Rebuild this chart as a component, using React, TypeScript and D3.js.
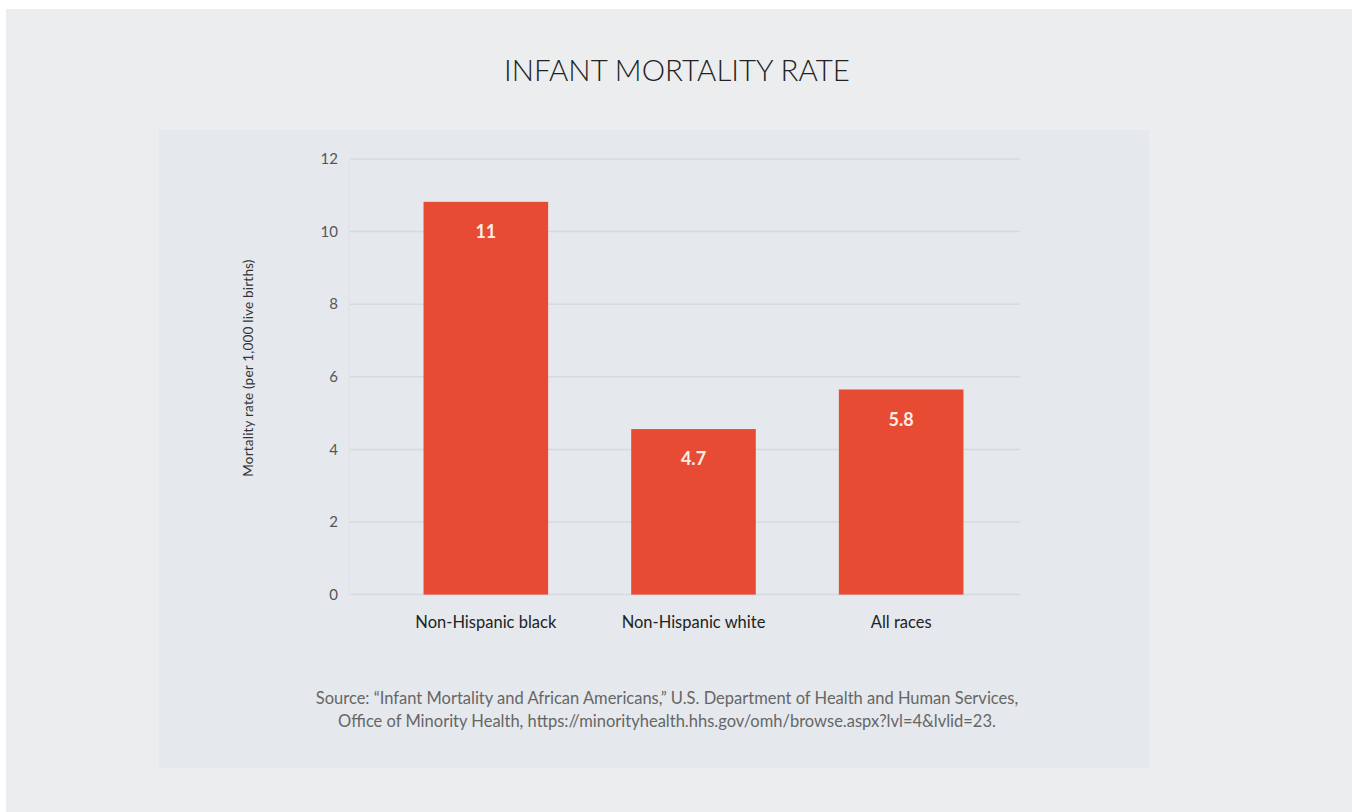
import React from "react";
import * as d3 from "d3";

const categories = ["Non-Hispanic black", "Non-Hispanic white", "All races"];
const barValues = [10.82, 4.56, 5.65];
const valueLabels = ["11", "4.7", "5.8"];
const yTicks = [0, 2, 4, 6, 8, 10, 12];
const title = "INFANT MORTALITY RATE";
const yTitle = "Mortality rate (per 1,000 live births)";
const sourceLines = [
  "Source:  \u201CInfant Mortality and African Americans,\u201D U.S. Department of Health and Human Services,",
  "Office of Minority Health, https://minorityhealth.hhs.gov/omh/browse.aspx?lvl=4&lvlid=23.",
];

const W = 1352;
const H = 812;
const FONT = "Lato, 'Open Sans', sans-serif";

export default function App() {
  const y = d3.scaleLinear().domain([0, 12]).range([594.6, 159]);
  const x = d3
    .scaleBand<string>()
    .domain(categories)
    .range([382, 1005])
    .paddingInner(0.4)
    .paddingOuter(0.2);
  const gridX0 = 350;
  const gridX1 = 1020;

  return (
    <svg
      width={W}
      height={H}
      style={{ position: "absolute", left: 0, top: 0, display: "block" }}
    >
      <rect x={0} y={0} width={W} height={H} fill="#ffffff" />
      <rect x={6} y={9} width={W - 6} height={H - 9} fill="#ecedef" />
      <rect x={159} y={130} width={990} height={638} fill="#e5e9ed" />
      <text
        x={677}
        y={81}
        textAnchor="middle"
        fontFamily={FONT}
        fontWeight={300}
        fontSize={29.5}
        fill="#222"
      >
        {title}
      </text>

      {/* gridlines */}
      {yTicks.map((t) => (
        <line
          key={"g" + t}
          x1={gridX0}
          x2={gridX1}
          y1={y(t)}
          y2={y(t)}
          stroke="#d6dade"
          strokeWidth={1.5}
        />
      ))}
      <line x1={gridX0 - 1} x2={gridX0 - 1} y1={y(12)} y2={y(0)} stroke="#dde1e5" strokeWidth={1} />
      {yTicks.map((t) => (
        <text
          key={"t" + t}
          x={338}
          y={y(t)}
          dy="0.35em"
          textAnchor="end"
          fontFamily={FONT}
          fontSize={15}
          fill="#555"
        >
          {t}
        </text>
      ))}
      <text
        transform={`translate(253, 368) rotate(-90)`}
        textAnchor="middle"
        fontFamily={FONT}
        fontSize={13.5}
        letterSpacing={0.2}
        fill="#333"
      >
        {yTitle}
      </text>

      {/* bars */}
      {categories.map((c, i) => (
        <g key={c}>
          <rect
            x={x(c)}
            y={y(barValues[i])}
            width={x.bandwidth()}
            height={y(0) - y(barValues[i])}
            fill="#e84b33"
          />
          <text
            x={(x(c) as number) + x.bandwidth() / 2}
            y={y(barValues[i]) + 36}
            textAnchor="middle"
            fontFamily={FONT}
            fontWeight={700}
            fontSize={18}
            fill="#fbeee9"
          >
            {valueLabels[i]}
          </text>
          <text
            x={(x(c) as number) + x.bandwidth() / 2}
            y={628}
            textAnchor="middle"
            fontFamily={FONT}
            fontSize={16.5}
            fill="#222"
          >
            {c}
          </text>
        </g>
      ))}

      {sourceLines.map((s, i) => (
        <text
          key={i}
          x={667}
          y={704 + i * 23}
          textAnchor="middle"
          fontFamily={FONT}
          fontSize={16.5}
          fill="#666"
        >
          {s}
        </text>
      ))}
    </svg>
  );
}
